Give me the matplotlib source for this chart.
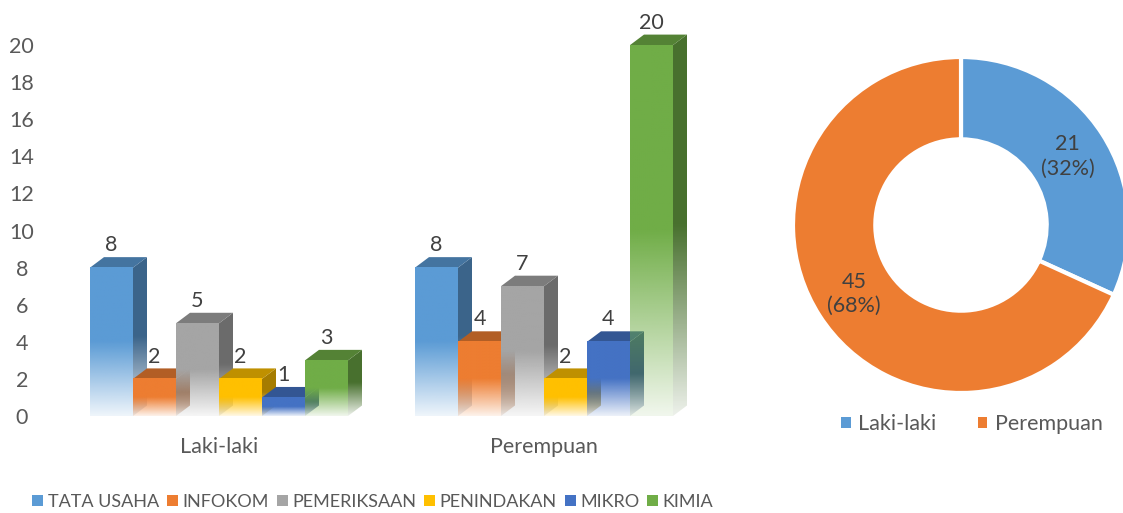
import numpy as np
import matplotlib.pyplot as plt
from matplotlib.patches import Polygon, Patch
from matplotlib.colors import to_rgb

plt.rcParams['font.family'] = ['Lato', 'DejaVu Sans']

groups = ['Laki-laki', 'Perempuan']
units = ['TATA USAHA', 'INFOKOM', 'PEMERIKSAAN', 'PENINDAKAN', 'MIKRO', 'KIMIA']
laki = [8, 2, 5, 2, 1, 3]
perempuan = [8, 4, 7, 2, 4, 20]
colors = ['#5B9BD5', '#ED7D31', '#A5A5A5', '#FFC000', '#4472C4', '#70AD47']
pie_colors = ['#5B9BD5', '#ED7D31']
yticks = [0, 2, 4, 6, 8, 10, 12, 14, 16, 18, 20]

txt = '#404040'
fs = 15.5
W, H = 1123, 513
fig = plt.figure(figsize=(W / 100, H / 100), dpi=100)

# bar chart axes, placed in pixels
left, right, bot, top = 56.5, 706.5, 416, 8
ax = fig.add_axes([left / W, (H - bot) / H, (right - left) / W, (bot - top) / H])
ax.set_xlim(-0.5, 1.5)
ax.set_ylim(0, 22)

w = 43 / 325.
dx = 14 / 325.
dy = 10.5 / 18.55


def grad(rgb, n=200):
    t = np.linspace(0, 1, n)
    a = np.clip(0.1 + 0.9 * t / 0.5, 0, 1)
    img = np.ones((n, 1, 4))
    img[..., :3] = rgb
    img[:, 0, 3] = a
    return img


def bar3d(x0, h, color, z):
    rgb = np.array(to_rgb(color))
    side = rgb * 0.65
    topc = rgb * 0.75
    x1 = x0 + w
    # side face
    p = Polygon([(x1, 0), (x1 + dx, dy), (x1 + dx, h + dy), (x1, h)], closed=True,
                transform=ax.transData, facecolor='none', edgecolor='none')
    im = ax.imshow(grad(side), extent=(x1, x1 + dx, 0, h + dy), origin='lower',
                   aspect='auto', interpolation='bilinear', zorder=z)
    im.set_clip_path(p)
    # top face
    ax.add_patch(Polygon([(x0, h), (x0 + dx, h + dy), (x1 + dx, h + dy), (x1, h)],
                         closed=True, facecolor=topc, edgecolor='none', zorder=z + 0.1))
    # front face
    ax.imshow(grad(rgb), extent=(x0, x1, 0, h), origin='lower', aspect='auto',
              interpolation='bilinear', zorder=z + 0.2)
    ax.text(x0 + w / 2, h + dy + 0.1, str(h), ha='center', va='bottom',
            fontsize=fs, color=txt, zorder=50)


z = 1
for g, vals in enumerate([laki, perempuan]):
    for i, v in enumerate(vals):
        bar3d(g - 3 * w + i * w, v, colors[i], z)
        z += 1

ax.set_xlim(-0.5, 1.5)
ax.set_ylim(0, 22)
for s in ax.spines.values():
    s.set_visible(False)
ax.set_yticks(yticks)
ax.set_yticklabels([str(t) for t in yticks], ha='center')
ax.tick_params(axis='y', length=0, pad=25, labelsize=fs, labelcolor='#595959')
ax.set_xticks([0, 1])
ax.set_xticklabels(groups)
ax.tick_params(axis='x', length=0, pad=15, labelsize=fs, labelcolor='#595959')

handles = [Patch(facecolor=c, edgecolor='none') for c in colors]
fig.legend(handles, units, loc='center left', bbox_to_anchor=(16 / W, 1 - 502 / H),
           ncol=6, frameon=False, fontsize=13, handlelength=0.6, handleheight=0.6,
           handletextpad=0.25, columnspacing=0.45, labelcolor='#595959')

# donut
cx, cy, R = 961, 225, 168
ax2 = fig.add_axes([(cx - R) / W, (H - cy - R) / H, 2 * R / W, 2 * R / H])
totals = [sum(laki), sum(perempuan)]
tot = sum(totals)
wedges, _, autot = ax2.pie(totals, colors=pie_colors, startangle=90, counterclock=False,
                           wedgeprops=dict(width=0.49, edgecolor='white', linewidth=3),
                           autopct=lambda p: '%d\n(%d%%)' % (round(p * tot / 100), round(p)),
                           pctdistance=0.755,
                           textprops=dict(fontsize=fs, color=txt))
for t in autot:
    t.set_linespacing(1.25)
ax2.set_xlim(-1, 1)
ax2.set_ylim(-1, 1)
ax2.axis('off')

fig.legend([Patch(facecolor=c, edgecolor='none') for c in pie_colors], groups,
           loc='center', bbox_to_anchor=(972 / W, 1 - 424 / H), ncol=2, frameon=False,
           fontsize=fs, handlelength=0.45, handleheight=0.45, handletextpad=0.35,
           columnspacing=1.9, labelcolor='#595959')

fig.savefig('out.png', dpi=100)
